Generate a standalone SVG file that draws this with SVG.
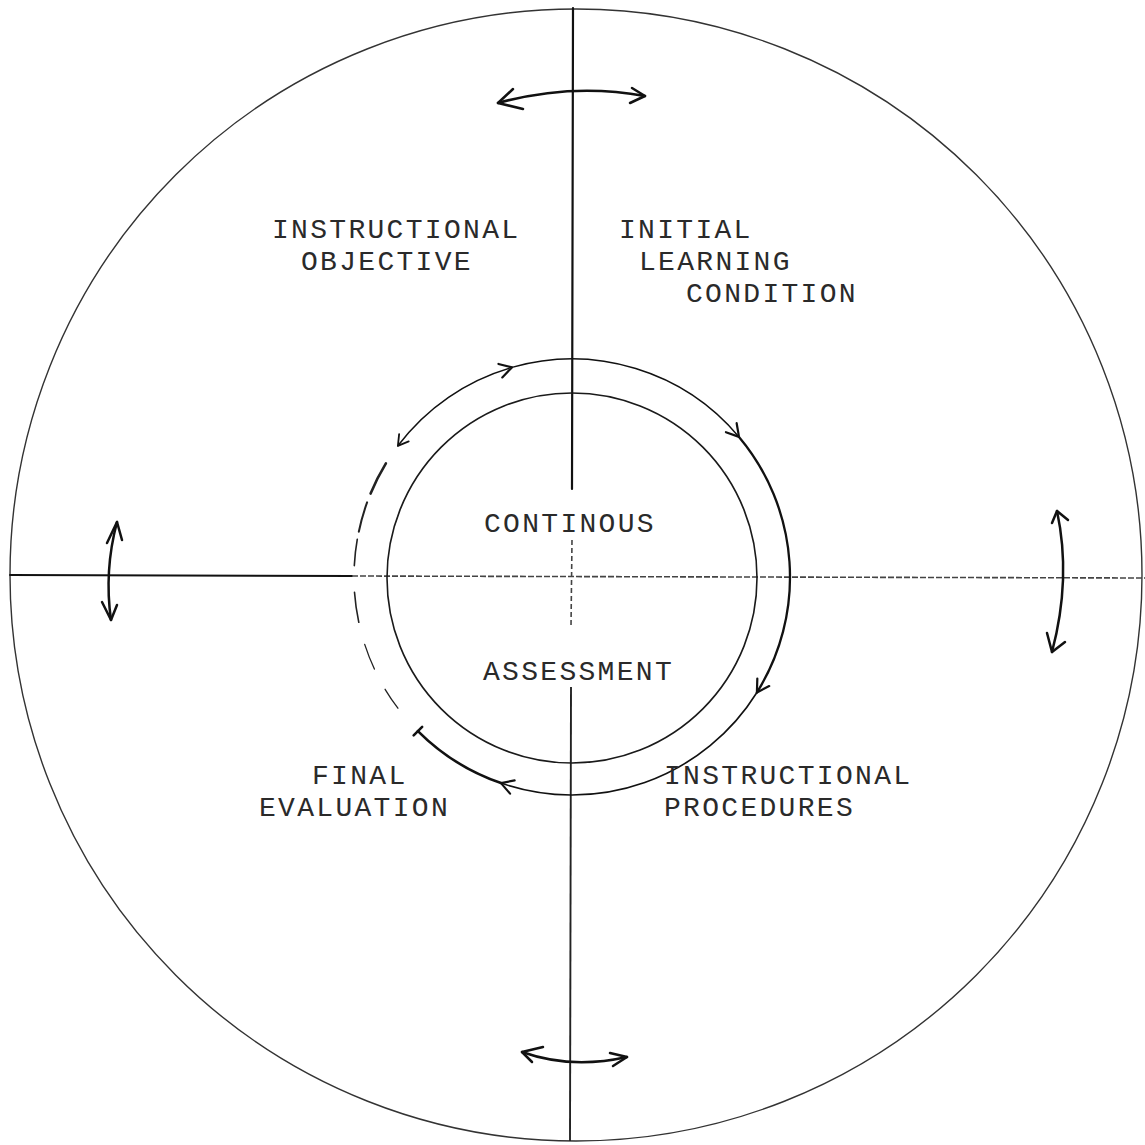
<svg xmlns="http://www.w3.org/2000/svg" width="1145" height="1145" viewBox="0 0 1145 1145">
  <defs>
    <style>
      .lbl { font-family: "Liberation Mono", "Courier New", monospace; font-size: 28px; letter-spacing: 2.3px; fill: #2a2a2a; }
      .ln { fill: none; stroke: #111; stroke-linecap: round; stroke-linejoin: round; }
      .dash { fill: none; stroke: #222; stroke-linecap: round; }
    </style>
    <marker id="chev" markerUnits="userSpaceOnUse" markerWidth="30" markerHeight="30" refX="0" refY="0" viewBox="-15 -15 30 30" orient="auto" overflow="visible">
      <path d="M -12 -7 L 0 0 L -12 7" fill="none" stroke="#111" stroke-width="2.2" stroke-linecap="round" stroke-linejoin="round"/>
    </marker>
    <marker id="chevRev" markerUnits="userSpaceOnUse" markerWidth="30" markerHeight="30" refX="0" refY="0" viewBox="-15 -15 30 30" orient="auto-start-reverse" overflow="visible">
      <path d="M -10 -6 L 0 0 L -10 6" fill="none" stroke="#111" stroke-width="1.8" stroke-linecap="round" stroke-linejoin="round"/>
    </marker>
    <marker id="tbar" markerUnits="userSpaceOnUse" markerWidth="30" markerHeight="30" refX="0" refY="0" viewBox="-15 -15 30 30" orient="auto" overflow="visible">
      <path d="M 0 -6 L 0 6" fill="none" stroke="#111" stroke-width="2.6" stroke-linecap="round"/>
    </marker>
  </defs>

  <rect width="1145" height="1145" fill="#ffffff"/>

  <g id="frame">
    <circle id="outer-circle" cx="576" cy="575" r="566" fill="none" stroke="#333" stroke-width="1.4"/>
    <path id="v-top" class="ln" d="M 573 8 L 572 489" stroke-width="2.2"/>
    <path id="v-mid" d="M 572 540 L 571 627" fill="none" stroke="#444" stroke-width="1.6" stroke-dasharray="5 3"/>
    <path id="v-bot" d="M 571 687 L 570 1141" fill="none" stroke="#222" stroke-width="1.9"/>
    <path id="h-left" class="ln" d="M 10 575 L 352 576" stroke-width="1.9"/>
    <path id="h-right" d="M 352 576 L 1145 578" fill="none" stroke="#444" stroke-width="1.6" stroke-dasharray="6 2"/>
    <circle id="inner-circle" cx="572" cy="578" r="185" fill="none" stroke="#1a1a1a" stroke-width="1.6"/>
  </g>

  <g id="connectors">
    <!-- assessment cycle ring -->
    <path class="ln" d="M 397.9 445.8 A 218 218 0 0 1 511.9 367.4" stroke-width="1.5" marker-start="url(#chevRev)"/>
    <path class="ln" d="M 511.9 367.4 A 218 218 0 0 1 739.0 436.9" stroke-width="1.5" marker-start="url(#chev)"/>
    <path class="ln" d="M 739.0 436.9 A 218 218 0 0 1 756.9 692.5" stroke-width="2.3" marker-start="url(#chev)"/>
    <path class="ln" d="M 756.9 692.5 A 218 218 0 0 1 501.0 783.1" stroke-width="1.6" marker-start="url(#chev)"/>
    <path class="ln" d="M 501.0 783.1 A 218 218 0 0 1 417.9 731.1" stroke-width="2.6" marker-start="url(#chev)" marker-end="url(#tbar)"/>
    <!-- dashed left part of ring -->
    <path class="dash" d="M 385.9 463.4 A 218 218 0 0 0 370.6 493.6" stroke-width="2.6"/>
    <path class="dash" d="M 367.1 502.4 A 218 218 0 0 0 358.8 531.7" stroke-width="2" stroke="#333"/>
    <path class="dash" d="M 357.3 539.2 A 218 218 0 0 0 354.3 565.6" stroke-width="1.6" stroke="#555"/>
    <path class="dash" d="M 354.5 592.2 A 218 218 0 0 0 358.8 622.3" stroke-width="1.6" stroke="#666"/>
    <path class="dash" d="M 364.7 644.4 A 218 218 0 0 0 374.4 669.1" stroke-width="1.3" stroke="#888"/>
    <path class="dash" d="M 385.1 689.3 A 218 218 0 0 0 397.9 708.2" stroke-width="1.3" stroke="#888"/>

    <!-- top double arrow -->
    <path class="ln" d="M 498 103 Q 572 82.5 645 96" stroke-width="2.5"/>
    <path class="ln" d="M 513 89 L 498 103 L 523 109" stroke-width="2.5"/>
    <path class="ln" d="M 632 88 L 645 96 L 630 103" stroke-width="2.5"/>
    <!-- bottom double arrow -->
    <path class="ln" d="M 522 1052 Q 571 1069.5 627 1057" stroke-width="2.5"/>
    <path class="ln" d="M 543 1047 L 522 1052 L 532 1062" stroke-width="2.5"/>
    <path class="ln" d="M 610 1053 L 627 1057 L 613 1066" stroke-width="2.5"/>
    <!-- left double arrow -->
    <path class="ln" d="M 117 522 Q 104 571 111 620" stroke-width="2.5"/>
    <path class="ln" d="M 107 543 L 117 522 L 122 540" stroke-width="2.5"/>
    <path class="ln" d="M 102 602 L 111 620 L 117 605" stroke-width="2.5"/>
    <!-- right double arrow -->
    <path class="ln" d="M 1057 511 Q 1071.5 578.5 1052 652" stroke-width="2.5"/>
    <path class="ln" d="M 1052 523 L 1057 511 L 1068 520" stroke-width="2.5"/>
    <path class="ln" d="M 1047 633 L 1052 652 L 1065 642" stroke-width="2.5"/>
  </g>

  <g id="node-objective">
    <text class="lbl" x="272" y="238">INSTRUCTIONAL</text>
    <text class="lbl" x="301" y="270">OBJECTIVE</text>
  </g>
  <g id="node-initial">
    <text class="lbl" x="619" y="238">INITIAL</text>
    <text class="lbl" x="639" y="270">LEARNING</text>
    <text class="lbl" x="686" y="302">CONDITION</text>
  </g>
  <g id="node-center">
    <text class="lbl" x="484" y="532">CONTINOUS</text>
    <text class="lbl" x="483" y="680">ASSESSMENT</text>
  </g>
  <g id="node-final">
    <text class="lbl" x="312" y="784">FINAL</text>
    <text class="lbl" x="259" y="816">EVALUATION</text>
  </g>
  <g id="node-procedures">
    <text class="lbl" x="664" y="784">INSTRUCTIONAL</text>
    <text class="lbl" x="664" y="816">PROCEDURES</text>
  </g>
</svg>
